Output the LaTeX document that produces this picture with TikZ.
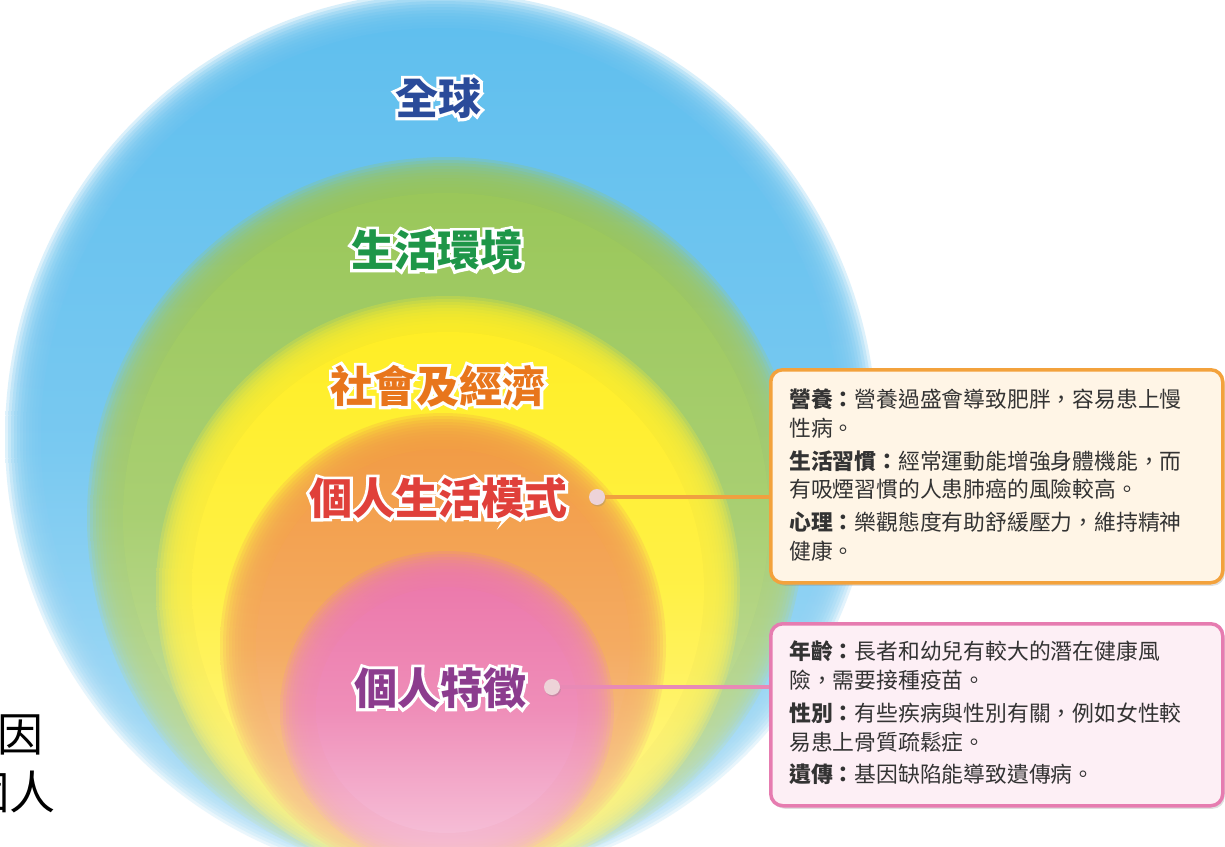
\documentclass[tikz,border=0pt]{standalone}
\usepackage{fontspec}
\newfontfamily\cjk{Noto Sans CJK TC}
\usetikzlibrary{shadows}
\definecolor{blueC}{HTML}{60BFEE}
\definecolor{greenC}{HTML}{9AC75A}
\definecolor{yellowC}{HTML}{FFEE26}
\definecolor{orangeC}{HTML}{F29C46}
\definecolor{pinkC}{HTML}{EC7AAC}
\definecolor{lblBlue}{HTML}{2A4B9A}
\definecolor{lblGreen}{HTML}{1E9648}
\definecolor{lblOrange}{HTML}{E8761C}
\definecolor{lblRed}{HTML}{E0403A}
\definecolor{lblPurple}{HTML}{8C3C8E}
\definecolor{boxOrange}{HTML}{F3A23C}
\definecolor{boxCream}{HTML}{FFF5E6}
\definecolor{boxPink}{HTML}{E67CB0}
\definecolor{boxPinkF}{HTML}{FDEFF5}
\definecolor{lineOrange}{HTML}{F0A040}
\definecolor{linePink}{HTML}{E88AB6}
\definecolor{dotC}{HTML}{EDD3D8}
\definecolor{textgray}{HTML}{333333}
% white emboldened copy behind the coloured text
\newcommand\halo[2]{\rlap{\textcolor{white}{\addfontfeature{FakeBold=14}#2}}\textcolor{#1}{#2}}
% soft-edged band: colour, cx, cy, rx, ry
\newcommand\softband[5]{%
  \foreach \k in {0,...,12}{%
    \pgfmathsetmacro\dr{18-3*\k}%
    \path[top color=#1, bottom color=#1!50!white, middle color=#1!85!white, fill opacity=0.24]
      (#2,#3) ellipse [x radius={#4+\dr}, y radius={#5+\dr}];
  }%
  \path[top color=#1, bottom color=#1!50!white, middle color=#1!85!white]
    (#2,#3) ellipse [x radius={#4-18}, y radius={#5-18}];
}
\tikzset{
  bandlabel/.style={font=\cjk\bfseries\fontsize{43}{43}\selectfont, inner sep=0pt},
  infobox/.style={rounded corners=12pt, line width=3.5pt, anchor=north west, inner sep=0pt,
    drop shadow={opacity=0.25, shadow xshift=2pt, shadow yshift=-3pt}},
  infotext/.style={font=\cjk\fontsize{21.8}{28.7}\selectfont, align=left, anchor=north west,
    inner sep=0pt, text=textgray},
  dotnode/.style={circle, fill=dotC, minimum size=16pt, inner sep=0pt,
    drop shadow={opacity=0.3, shadow xshift=1pt, shadow yshift=-1.5pt}},
  cuttext/.style={font=\cjk\fontsize{46}{46}\selectfont, inner sep=0pt},
}
\begin{document}
\begin{tikzpicture}[x=1pt,y=-1pt]
\path[use as bounding box, fill=white] (0,0) rectangle (1225,846);
\begin{scope}
\clip (0,0) rectangle (1225,846);
\softband{blueC}{441}{437}{418}{427}
\softband{greenC}{446}{518}{341}{343}
\softband{yellowC}{448}{589}{274}{275}
\softband{orangeC}{443}{646}{205}{215}
\softband{pinkC}{447}{710}{149}{141}

\node[bandlabel] (global) at (438,98) {\halo{lblBlue}{全球}};
\node[bandlabel] (env) at (437,250) {\halo{lblGreen}{生活環境}};
\node[bandlabel] (soc) at (438,386) {\halo{lblOrange}{社會及經濟}};
\node[bandlabel] (life) at (438,498) {\halo{lblRed}{個人生活模式}};
\node[bandlabel] (trait) at (440,688) {\halo{lblPurple}{個人特徵}};

\node[infobox, draw=boxOrange, fill=boxCream, minimum width=452pt, minimum height=213pt] (b1) at (769,368) {};
\node[infobox, draw=boxPink, fill=boxPinkF, minimum width=452pt, minimum height=182pt] (b2) at (769,622) {};

\node[infotext] (t1) at (789,389) {{\bfseries 營養：}營養過盛會導致肥胖，容易患上慢\\
性病。\\[4pt]
{\bfseries 生活習慣：}經常運動能增強身體機能，而\\
有吸煙習慣的人患肺癌的風險較高。\\[4pt]
{\bfseries 心理：}樂觀態度有助舒緩壓力，維持精神\\
健康。};
\node[infotext] (t2) at (789,641) {{\bfseries 年齡：}長者和幼兒有較大的潛在健康風\\
險，需要接種疫苗。\\[4pt]
{\bfseries 性別：}有些疾病與性別有關，例如女性較\\
易患上骨質疏鬆症。\\[4pt]
{\bfseries 遺傳：}基因缺陷能導致遺傳病。};

\node[dotnode] (d1) at (597,497) {};
\node[dotnode] (d2) at (552,687) {};
\draw[lineOrange, line width=3.5pt] (d1) -- (b1.west |- d1);
\draw[linePink, line width=3.5pt] (d2) -- (b2.west |- d2);

\node[cuttext, anchor=west] (c1) at (-3,735) {因};
\node[cuttext, anchor=east] (c2) at (56,792) {個人};
\end{scope}
\end{tikzpicture}
\end{document}
